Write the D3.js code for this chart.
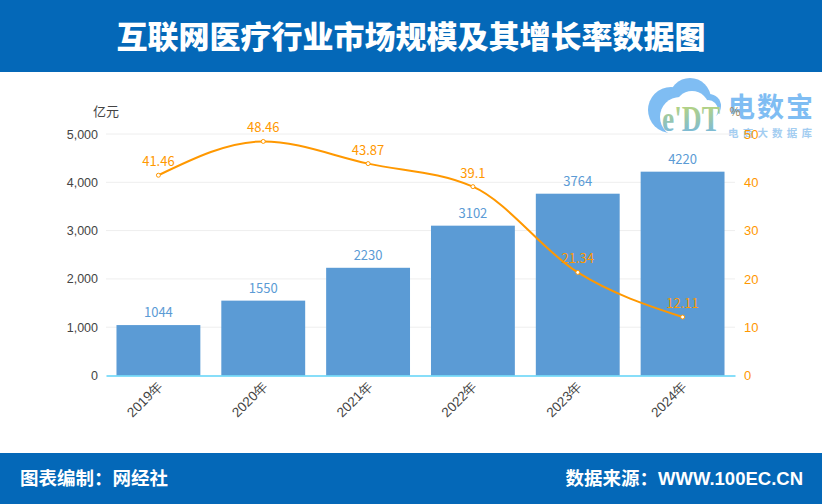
<!DOCTYPE html>
<html>
<head>
<meta charset="utf-8">
<script src="https://cdnjs.cloudflare.com/ajax/libs/d3/7.8.5/d3.min.js"></script>
<style>
  html, body { margin: 0; padding: 0; background: #fff; }
  svg { display: block; font-family: "Noto Sans CJK SC", "Noto Sans", sans-serif; }
</style>
</head>
<body>
<svg id="chart" width="822" height="504"></svg>
<script>
/* ---------- data ---------- */
const years  = ["2019年", "2020年", "2021年", "2022年", "2023年", "2024年"];
const market = [1044, 1550, 2230, 3102, 3764, 4220];   // 亿元
const growth = [41.46, 48.46, 43.87, 39.1, 21.34, 12.11]; // %
const leftTicks  = [0, 1000, 2000, 3000, 4000, 5000];
const rightTicks = [0, 10, 20, 30, 40, 50];

const blue = "#5b9bd5", orange = "#ff9800", band = "#0468b8", logoBlue = "#7fbdf3";

const svg = d3.select("#chart");
const margin = { left: 106, right: 87, top: 134, bottom: 128.5 };
const width = 822, height = 504;

const x = d3.scaleBand().domain(years)
  .range([margin.left, width - margin.right]).paddingInner(0.2).paddingOuter(0.1);
const yL = d3.scaleLinear().domain([0, 5000]).range([height - margin.bottom, margin.top]);
const yR = d3.scaleLinear().domain([0, 50]).range([height - margin.bottom, margin.top]);

/* ---------- header / footer ---------- */
svg.append("rect").attr("width", width).attr("height", 72).attr("fill", band);
svg.append("rect").attr("y", 453).attr("width", width).attr("height", 51).attr("fill", band);
svg.append("text").attr("x", 411).attr("y", 48).attr("text-anchor", "middle")
  .attr("fill", "#fff").style("font-size", "31px").style("font-weight", 900)
  .text("互联网医疗行业市场规模及其增长率数据图");

const footFont = '"Liberation Sans", "Noto Sans CJK SC", sans-serif';
svg.append("text").attr("x", 20).attr("y", 485)
  .attr("fill", "#fff").style("font-size", "18.5px").style("font-weight", 700).style("font-family", footFont)
  .text("图表编制：网经社");
svg.append("text").attr("x", 803).attr("y", 485).attr("text-anchor", "end")
  .attr("fill", "#fff").style("font-size", "18.5px").style("font-weight", 700).style("font-family", footFont)
  .text("数据来源：WWW.100EC.CN");

/* ---------- logo watermark (sits under the chart texts) ---------- */
const defs = svg.append("defs");
const grad = defs.append("linearGradient").attr("id", "edt").attr("x1", 0).attr("x2", 0).attr("y1", 0).attr("y2", 1);
grad.append("stop").attr("offset", "0%").attr("stop-color", "#c4d96a");
grad.append("stop").attr("offset", "100%").attr("stop-color", "#6db4ee");

const logo = svg.append("g");
const cloud = logo.append("g").attr("fill", logoBlue);
cloud.append("circle").attr("cx", 671).attr("cy", 110).attr("r", 23);
cloud.append("circle").attr("cx", 690).attr("cy", 99).attr("r", 21);
cloud.append("circle").attr("cx", 709).attr("cy", 106).attr("r", 12);
logo.append("circle").attr("cx", 680).attr("cy", 117).attr("r", 20).attr("fill", "#fff");
logo.append("circle").attr("cx", 692).attr("cy", 108).attr("r", 17).attr("fill", "#fff");
logo.append("circle").attr("cx", 708).attr("cy", 110).attr("r", 10).attr("fill", "#fff");
logo.append("rect").attr("x", 668).attr("y", 116).attr("width", 56).attr("height", 20).attr("fill", "#fff");
logo.append("text").attr("x", 662).attr("y", 131).attr("textLength", 58)
  .attr("lengthAdjust", "spacingAndGlyphs")
  .attr("fill", "url(#edt)").style("font-size", "36px").style("font-family", "Liberation Serif")
  .style("font-weight", 700).text("e'DT");
logo.append("text").attr("x", 728).attr("y", 117).attr("textLength", 85)
  .attr("fill", logoBlue).style("font-size", "27px").style("font-weight", 700)
  .text("电数宝");
logo.append("text").attr("x", 728).attr("y", 137).attr("textLength", 84)
  .attr("fill", "#a3cdf1").style("font-size", "10.5px").style("font-weight", 700)
  .text("电商大数据库");

/* ---------- grid ---------- */
svg.append("g").selectAll("line").data(leftTicks.slice(1)).join("line")
  .attr("x1", margin.left).attr("x2", width - margin.right)
  .attr("y1", d => yL(d)).attr("y2", d => yL(d))
  .attr("stroke", "#eeeeee");

/* ---------- bars ---------- */
svg.append("g").selectAll("rect").data(market).join("rect")
  .attr("x", (d, i) => x(years[i]))
  .attr("y", d => yL(d))
  .attr("width", x.bandwidth())
  .attr("height", d => yL(0) - yL(d))
  .attr("fill", blue);

svg.append("g").selectAll("text").data(market).join("text")
  .attr("x", (d, i) => x(years[i]) + x.bandwidth() / 2)
  .attr("y", d => yL(d) - 8)
  .attr("text-anchor", "middle")
  .attr("fill", blue).style("font-size", "13px")
  .text(d => d);

/* ---------- axes ---------- */
const axisLeft = svg.append("g").attr("transform", `translate(${margin.left},0)`)
  .call(d3.axisLeft(yL).tickValues(leftTicks).tickSize(0).tickPadding(8).tickFormat(d3.format(",")));
axisLeft.select(".domain").remove();
axisLeft.selectAll("text").attr("fill", "#444").style("font-size", "12.5px");

const axisRight = svg.append("g").attr("transform", `translate(${width - margin.right},0)`)
  .call(d3.axisRight(yR).tickValues(rightTicks).tickSize(0).tickPadding(9));
axisRight.select(".domain").remove();
axisRight.selectAll("text").attr("fill", orange).style("font-size", "13px");

const axisBottom = svg.append("g").attr("transform", `translate(0,${yL(0)})`)
  .call(d3.axisBottom(x).tickSize(0));
axisBottom.select(".domain").attr("stroke", "#5fd3f7").attr("stroke-width", 1.5);
axisBottom.selectAll("text")
  .attr("fill", "#444").style("font-size", "13.5px")
  .attr("text-anchor", "end")
  .attr("y", 0).attr("dy", "0.35em")
  .attr("transform", "translate(2,8) rotate(-45)");

svg.append("text").attr("x", 93).attr("y", 116).attr("fill", "#444").style("font-size", "13px").text("亿元");
svg.append("text").attr("x", 735).attr("y", 116).attr("text-anchor", "middle").attr("fill", "#a08a60").style("font-size", "12px").text("%");

/* ---------- growth line ---------- */
const line = d3.line()
  .x((d, i) => x(years[i]) + x.bandwidth() / 2)
  .y(d => yR(d))
  .curve(d3.curveMonotoneX);

svg.append("path").datum(growth)
  .attr("d", line).attr("fill", "none")
  .attr("stroke", orange).attr("stroke-width", 2);

svg.append("g").selectAll("circle").data(growth).join("circle")
  .attr("cx", (d, i) => x(years[i]) + x.bandwidth() / 2)
  .attr("cy", d => yR(d))
  .attr("r", 2).attr("fill", "#fff")
  .attr("stroke", orange).attr("stroke-width", 1);

svg.append("g").selectAll("text").data(growth).join("text")
  .attr("x", (d, i) => x(years[i]) + x.bandwidth() / 2)
  .attr("y", d => yR(d) - 9)
  .attr("text-anchor", "middle")
  .attr("fill", orange).style("font-size", "13px")
  .text(d => d);
</script>
</body>
</html>
